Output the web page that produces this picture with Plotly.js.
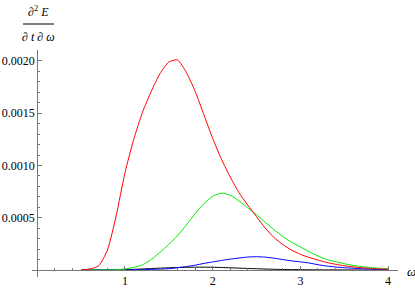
<!DOCTYPE html>
<html>
<head>
<meta charset="utf-8">
<script src="https://cdn.plot.ly/plotly-3.0.1.min.js"></script>
<style>html,body{margin:0;padding:0;background:#fff;}#chart{width:415px;height:289px;}</style>
</head>
<body>
<div id="chart"></div>
<script>
const omega = [0.5,0.6,0.7,0.8,0.9,1.0,1.1,1.2,1.3,1.4,1.5,1.6,1.7,1.8,1.9,2.0,2.1,2.2,2.3,2.4,2.5,2.6,2.7,2.8,2.9,3.0,3.1,3.2,3.3,3.4,3.5,3.6,3.7,3.8,3.9,4.0];
const redVals = [0,0.00001,0.00004,0.00019,0.00052,0.00093,0.00125,0.00151,0.00171,0.00188,0.00199,0.00201,0.00189,0.00171,0.001485,0.00126,0.00106,0.00089,0.00074,0.00062,0.00051,0.00040,0.00031,0.000243,0.00019,0.00015,0.00012,0.000095,0.000072,0.000055,0.000041,0.000030,0.000022,0.000015,0.000010,0.000007];
const greenVals = [0,0,0,0,0.000003,0.00001,0.000025,0.00005,0.0001,0.00017,0.000245,0.00033,0.00043,0.00054,0.000635,0.000705,0.000735,0.000715,0.00066,0.000595,0.00053,0.000455,0.000385,0.00032,0.000265,0.00022,0.000175,0.000135,0.0001,0.00008,0.00006,0.000045,0.000033,0.000024,0.000017,0.000012];
const blueVals = [0,0,0,0,0,0,0.000002,0.000004,0.000006,0.000009,0.000012,0.000022,0.000033,0.000046,0.000063,0.000077,0.000091,0.000104,0.000115,0.000124,0.000127,0.000123,0.000113,0.0001,0.000087,0.000078,0.000067,0.000051,0.000038,0.000029,0.000022,0.000017,0.000012,0.000008,0.000005,0.000003];
const blackVals = [0,0,0,0,0.000001,0.000003,0.000006,0.00001,0.000014,0.000018,0.000021,0.000024,0.000026,0.000027,0.000027,0.000026,0.000024,0.000021,0.000018,0.000015,0.000012,0.000009,0.000007,0.000005,0.000004,0.000003,0.000002,0.0000015,0.000001,0.000001,0.0000005,0.0000005,0,0,0,0];
const xTicks = [1,2,3,4];
const yTicks = [0.0005,0.001,0.0015,0.002];
const yTickText = ['0.0005','0.0010','0.0015','0.0020'];

const xr = [-0.06, 4.113];
const yr = [-0.000067, 0.002105];

function tr(y, c){ return {x: omega, y: y, type:'scatter', mode:'lines', line:{color:c, width:1, shape:'spline', smoothing:0.6}, hoverinfo:'skip'}; }
const data = [tr(blackVals,'#000000'), tr(blueVals,'#0000ff'), tr(greenVals,'#00ee00'), tr(redVals,'#ff0000')];

const serif = 'Liberation Serif';
const axisColor = '#777777';
const tickFont = {family:serif, size:12, color:'#000'};
const layout = {
  width:415, height:289,
  margin:{l:32, r:17, t:50, b:12},
  paper_bgcolor:'#fff', plot_bgcolor:'#fff',
  showlegend:false,
  font:{family:serif},
  xaxis:{range:xr, showgrid:false, zeroline:false, showline:true, linecolor:axisColor, linewidth:1,
    anchor:'free', position:(0-yr[0])/(yr[1]-yr[0]),
    tickmode:'array', tickvals:xTicks, ticks:'inside', ticklen:4, tickcolor:axisColor, tickwidth:1,
    minor:{dtick:0.2, tick0:0, ticks:'inside', ticklen:2, tickcolor:axisColor, showgrid:false},
    tickfont:tickFont, automargin:false},
  yaxis:{range:yr, showgrid:false, zeroline:false, showline:true, linecolor:axisColor, linewidth:1,
    anchor:'free', position:(0-xr[0])/(xr[1]-xr[0]),
    tickmode:'array', tickvals:yTicks, ticktext:yTickText, ticks:'inside', ticklen:4, tickcolor:axisColor, tickwidth:1,
    minor:{dtick:0.0001, tick0:0, ticks:'inside', ticklen:2, tickcolor:axisColor, showgrid:false},
    tickfont:tickFont, automargin:false},
  annotations:[
    {xref:'paper', yref:'paper', x:(411-32)/366, y:(277-271)/227, text:'<i>ω</i>', showarrow:false, xanchor:'center', yanchor:'middle',
      font:{family:serif, size:13, color:'#000'}},
    {xref:'paper', yref:'paper', x:(38-32)/366, y:(277-11)/227, text:'∂<sup>2</sup> <i>E</i>', showarrow:false, xanchor:'center', yanchor:'middle',
      font:{family:serif, size:12, color:'#000'}},
    {xref:'paper', yref:'paper', x:(38-32)/366, y:(277-37)/227, text:'∂ <i>t</i> ∂ <i>ω</i>', showarrow:false, xanchor:'center', yanchor:'middle',
      font:{family:serif, size:12, color:'#000'}}
  ],
  shapes:[
    {type:'line', xref:'paper', yref:'paper', x0:(23-32)/366, x1:(54-32)/366, y0:(277-24)/227, y1:(277-24)/227, line:{color:'#000', width:1}}
  ]
};
Plotly.newPlot('chart', data, layout, {staticPlot:true, displayModeBar:false});
</script>
</body>
</html>
